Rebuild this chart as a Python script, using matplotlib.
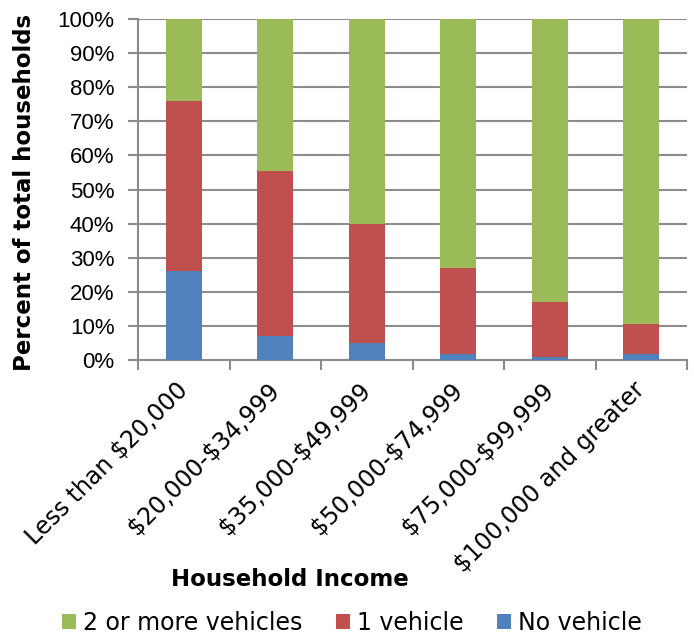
import matplotlib
matplotlib.use("Agg")
import matplotlib.pyplot as plt
import numpy as np

plt.rcParams["text.parse_math"] = False

categories = ["Less than $20,000", "$20,000-$34,999", "$35,000-$49,999",
              "$50,000-$74,999", "$75,000-$99,999", "$100,000 and greater"]
no_vehicle = [26, 7, 5, 1.9, 0.9, 1.9]
one_vehicle = [50, 48.5, 35, 25.1, 16.1, 8.8]
two_plus = [100 - a - b for a, b in zip(no_vehicle, one_vehicle)]

green = "#9BBB59"
red = "#C0504D"
blue = "#4F81BD"
gray = "#8c8c8c"

fig = plt.figure(figsize=(6.94, 6.37), dpi=100)
ax = fig.add_axes([138 / 694, 1 - 360 / 637, (687 - 138) / 694, (360 - 19) / 637])

x = np.arange(len(categories))
w = 0.39
ax.bar(x, no_vehicle, w, color=blue, label="No vehicle", zorder=3)
ax.bar(x, one_vehicle, w, bottom=no_vehicle, color=red, label="1 vehicle", zorder=3)
bottoms = [a + b for a, b in zip(no_vehicle, one_vehicle)]
ax.bar(x, two_plus, w, bottom=bottoms, color=green, label="2 or more vehicles", zorder=3)

ax.set_xlim(-0.5, len(categories) - 0.5)
ax.set_ylim(0, 100)
ax.set_yticks(np.arange(0, 101, 10))
ax.set_yticklabels([f"{v}%" for v in range(0, 101, 10)], fontsize=16,
                   family="Liberation Sans")
ax.yaxis.grid(True, color=gray, linewidth=1.5, zorder=0)

ax.set_xticks(x)
ax.set_xticklabels(categories, rotation=45, ha="right", va="center",
                   rotation_mode="anchor", fontsize=17, family="DejaVu Sans")
ax.set_xticks(np.arange(-0.5, len(categories), 1), minor=True)
ax.tick_params(axis="x", which="major", length=0, pad=19)
ax.tick_params(axis="x", which="minor", length=7, width=1.5, color=gray, direction="out")
ax.tick_params(axis="y", length=7, width=1.5, color=gray, pad=10)

for s in ["top", "right"]:
    ax.spines[s].set_visible(False)
for s in ["left", "bottom"]:
    ax.spines[s].set_color(gray)
    ax.spines[s].set_linewidth(1.5)

fig.text(25 / 694, 1 - 192 / 637, "Percent of total households", rotation=90,
         ha="center", va="center", fontsize=16.5, fontweight="bold", family="DejaVu Sans")
fig.text(290 / 694, 1 - 580 / 637, "Household Income", ha="center", va="center",
         fontsize=16.5, fontweight="bold", family="DejaVu Sans")

handles, labels = ax.get_legend_handles_labels()
fig.legend(handles[::-1], labels[::-1], loc="center", bbox_to_anchor=(352 / 694, 1 - 623 / 637),
           ncol=3, frameon=False, prop={"family": "DejaVu Sans", "size": 17},
           handlelength=0.6, handleheight=0.6, handletextpad=0.3, columnspacing=1.4)

fig.savefig("out.png", dpi=100)
